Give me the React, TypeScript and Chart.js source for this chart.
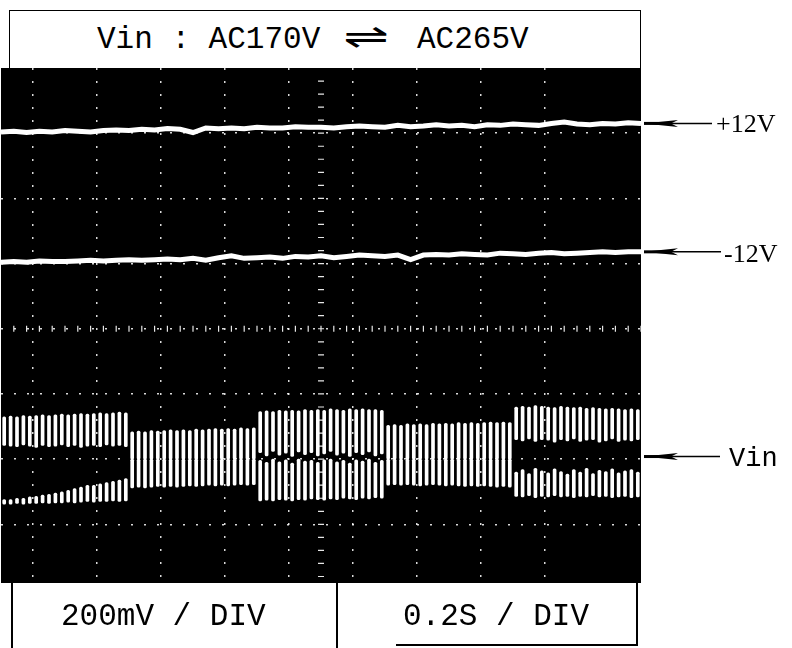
import React, { useEffect, useRef } from "react";
import { Chart, registerables } from "chart.js";

Chart.register(...registerables);

// Screen: 10 horizontal divisions (0.2 s / div), 8 vertical divisions
const X_DIVS = 10;
const Y_MIN = 0.1;
const Y_MAX = 8;
const TRACE_STEP = 0.2; // divisions between trace samples
const STRIPE_STEP = 0.1; // divisions between Vin cycles

const plus12V = [7.02, 7.03, 7.01, 7.03, 7.02, 7.04, 7.03, 7.02, 7.04, 7.05, 7.04, 7.06, 7.05, 7.07, 7.06, 7.01, 7.08, 7.07, 7.08, 7.07, 7.09, 7.08, 7.08, 7.1, 7.09, 7.09, 7.08, 7.1, 7.11, 7.1, 7.09, 7.12, 7.1, 7.11, 7.13, 7.11, 7.12, 7.1, 7.13, 7.12, 7.14, 7.13, 7.12, 7.15, 7.17, 7.14, 7.13, 7.15, 7.14, 7.16, 7.15];
const minus12V = [5.02, 5.03, 5.02, 5.04, 5.03, 5.03, 5.04, 5.05, 5.04, 5.05, 5.06, 5.05, 5.06, 5.07, 5.06, 5.08, 5.05, 5.09, 5.12, 5.08, 5.09, 5.1, 5.08, 5.11, 5.1, 5.12, 5.09, 5.11, 5.13, 5.12, 5.11, 5.13, 5.06, 5.13, 5.14, 5.13, 5.15, 5.14, 5.13, 5.16, 5.15, 5.14, 5.16, 5.17, 5.15, 5.16, 5.17, 5.18, 5.17, 5.18, 5.18];

// Vin: each cycle drawn as an upper and a lower stripe [bottom, top]
const vinUpperTop = [
  2.65, 2.66, 2.65, 2.67, 2.66, 2.67, 2.68, 2.67, 2.68, 2.69, 2.68, 2.69, 2.7, 2.69, 2.7, 2.71, 2.7, 2.71, 2.72, 2.71,
  2.42, 2.43, 2.42, 2.44, 2.43, 2.44, 2.45, 2.44, 2.45, 2.44, 2.46, 2.45, 2.46, 2.47, 2.46, 2.47, 2.46, 2.48, 2.47, 2.48,
  2.73, 2.74, 2.73, 2.75, 2.74, 2.75, 2.74, 2.76, 2.75, 2.76, 2.75, 2.77, 2.76, 2.75, 2.77, 2.76, 2.77, 2.76, 2.76, 2.75,
  2.52, 2.53, 2.52, 2.54, 2.53, 2.54, 2.53, 2.55, 2.54, 2.55, 2.54, 2.56, 2.55, 2.56, 2.55, 2.56, 2.57, 2.56, 2.57, 2.56,
  2.8, 2.81, 2.8, 2.82, 2.81, 2.8, 2.79, 2.81, 2.8, 2.79, 2.8, 2.78, 2.79, 2.78, 2.77, 2.78, 2.77, 2.76, 2.77, 2.76,
];
const vinUpperBot = [
  2.21, 2.2, 2.19, 2.22, 2.2, 2.18, 2.21, 2.19, 2.2, 2.22, 2.19, 2.21, 2.18, 2.2, 2.21, 2.19, 2.22, 2.2, 2.21, 2.19,
  2.0, 2.0, 2.0, 2.0, 2.0, 2.0, 2.0, 2.0, 2.0, 2.0, 2.0, 2.0, 2.0, 2.0, 2.0, 2.0, 2.0, 2.0, 2.0, 2.0,
  2.1, 2.05, 2.12, 2.06, 2.09, 2.04, 2.11, 2.07, 2.1, 2.05, 2.08, 2.12, 2.06, 2.09, 2.04, 2.1, 2.07, 2.11, 2.05, 2.08,
  2.0, 2.0, 2.0, 2.0, 2.0, 2.0, 2.0, 2.0, 2.0, 2.0, 2.0, 2.0, 2.0, 2.0, 2.0, 2.0, 2.0, 2.0, 2.0, 2.0,
  2.3, 2.28, 2.31, 2.27, 2.3, 2.29, 2.26, 2.3, 2.28, 2.31, 2.27, 2.29, 2.3, 2.26, 2.28, 2.31, 2.27, 2.29, 2.28, 2.3,
];
const vinLowerTop = [
  1.38, 1.38, 1.4, 1.4, 1.42, 1.43, 1.45, 1.46, 1.48, 1.5, 1.52, 1.55, 1.57, 1.6, 1.6, 1.62, 1.64, 1.66, 1.68, 1.7,
  2.0, 2.0, 2.0, 2.0, 2.0, 2.0, 2.0, 2.0, 2.0, 2.0, 2.0, 2.0, 2.0, 2.0, 2.0, 2.0, 2.0, 2.0, 2.0, 2.0,
  1.98, 1.95, 2.0, 1.96, 1.99, 1.94, 2.0, 1.97, 1.98, 1.95, 1.99, 2.0, 1.96, 1.98, 1.94, 1.99, 1.97, 2.0, 1.95, 1.98,
  2.0, 2.0, 2.0, 2.0, 2.0, 2.0, 2.0, 2.0, 2.0, 2.0, 2.0, 2.0, 2.0, 2.0, 2.0, 2.0, 2.0, 2.0, 2.0, 2.0,
  1.8, 1.84, 1.78, 1.86, 1.82, 1.79, 1.85, 1.81, 1.77, 1.84, 1.8, 1.86, 1.78, 1.83, 1.81, 1.85, 1.79, 1.82, 1.84, 1.8,
];
const vinLowerBot = [
  1.31, 1.31, 1.32, 1.31, 1.32, 1.32, 1.33, 1.32, 1.33, 1.33, 1.34, 1.33, 1.34, 1.35, 1.34, 1.35, 1.35, 1.36, 1.35, 1.36,
  1.56, 1.57, 1.56, 1.57, 1.58, 1.57, 1.58, 1.57, 1.58, 1.59, 1.58, 1.59, 1.6, 1.59, 1.6, 1.59, 1.6, 1.61, 1.6, 1.61,
  1.36, 1.37, 1.36, 1.38, 1.37, 1.36, 1.38, 1.37, 1.39, 1.38, 1.37, 1.39, 1.38, 1.4, 1.39, 1.38, 1.4, 1.39, 1.41, 1.4,
  1.6, 1.61, 1.6, 1.61, 1.6, 1.59, 1.6, 1.61, 1.6, 1.59, 1.6, 1.59, 1.58, 1.59, 1.58, 1.59, 1.58, 1.57, 1.58, 1.57,
  1.43, 1.42, 1.44, 1.41, 1.43, 1.42, 1.44, 1.42, 1.43, 1.41, 1.43, 1.42, 1.44, 1.42, 1.43, 1.41, 1.42, 1.43, 1.41, 1.42,
];
const VIN_CENTER = 2.04;

const titleLeft = "Vin : AC170V";
const titleArrow = "\u21CC";
const titleRight = "AC265V";
const voltsPerDiv = "200mV / DIV";
const timePerDiv = "0.2S / DIV";
const labelPlus = "+12V";
const labelMinus = "-12V";
const labelVin = "Vin";

const screenPlugin = {
  id: "screen",
  beforeDraw(chart: any) {
    const { ctx, chartArea: a } = chart;
    ctx.save();
    ctx.fillStyle = "#000";
    ctx.fillRect(a.left, a.top, a.right - a.left, a.bottom - a.top);
    ctx.restore();
  },
  beforeDatasetsDraw(chart: any) {
    // minor graduation ticks on the centre axes
    const { ctx, scales } = chart;
    const xs = scales.x;
    const ys = scales.y;
    const cx = xs.getPixelForValue(X_DIVS / 2);
    const cy = ys.getPixelForValue(4);
    ctx.save();
    ctx.strokeStyle = "rgba(255,255,255,0.9)";
    ctx.lineWidth = 1.2;
    ctx.beginPath();
    for (let v = 0.2; v < Y_MAX; v += 0.2) {
      const p = ys.getPixelForValue(v);
      ctx.moveTo(cx - 3, p);
      ctx.lineTo(cx + 3, p);
    }
    for (let v = 0.2; v < X_DIVS; v += 0.2) {
      const p = xs.getPixelForValue(v);
      ctx.moveTo(p, cy - 3);
      ctx.lineTo(p, cy + 3);
    }
    ctx.stroke();
    ctx.restore();
  },
  afterDraw(chart: any) {
    const { ctx, chartArea: a, scales } = chart;
    const ys = scales.y;
    const arrow = (y: number, x1: number) => {
      const x0 = a.right + 3;
      ctx.save();
      ctx.strokeStyle = "#000";
      ctx.fillStyle = "#000";
      ctx.lineWidth = 1.5;
      ctx.beginPath();
      ctx.moveTo(x0, y);
      ctx.lineTo(x1, y);
      ctx.stroke();
      ctx.lineWidth = 3;
      ctx.beginPath();
      ctx.moveTo(x0, y);
      ctx.lineTo(x0 + 26, y);
      ctx.stroke();
      ctx.beginPath();
      ctx.moveTo(x0, y);
      ctx.lineTo(x0 + 34, y - 3.5);
      ctx.lineTo(x0 + 27, y);
      ctx.lineTo(x0 + 34, y + 3.5);
      ctx.closePath();
      ctx.fill();
      ctx.restore();
    };
    arrow(ys.getPixelForValue(plus12V[plus12V.length - 1]), 712);
    arrow(ys.getPixelForValue(minus12V[minus12V.length - 1]), 721);
    arrow(ys.getPixelForValue(VIN_CENTER), 720);
  },
};

const gridColor = (edgeMax: number) => (ctx: any) => {
  const v = ctx.tick ? ctx.tick.value : 0;
  if (Math.abs(v - Math.round(v)) > 1e-6 || v <= 0.5 || v >= edgeMax - 1e-6) return "rgba(0,0,0,0)";
  return "rgba(255,255,255,0.85)";
};

export default function App() {
  const ref = useRef<HTMLCanvasElement | null>(null);
  useEffect(() => {
    if (!ref.current) return;
    const traceData = (arr: number[]) => arr.map((y, i) => ({ x: i * TRACE_STEP, y }));
    const stripes = (bot: number[], top: number[]) =>
      top.map((t, i) => ({ x: (i + 0.5) * STRIPE_STEP, y: [bot[i], t] }));
    const chart = new Chart(ref.current, {
      type: "bar",
      data: {
        datasets: [
          {
            type: "line",
            label: "+12V",
            data: traceData(plus12V),
            borderColor: "#fff",
            borderWidth: 5,
            pointRadius: 0,
            tension: 0,
          } as any,
          {
            type: "line",
            label: "-12V",
            data: traceData(minus12V),
            borderColor: "#fff",
            borderWidth: 5,
            pointRadius: 0,
            tension: 0,
          } as any,
          {
            type: "bar",
            label: "Vin upper",
            data: stripes(vinUpperBot, vinUpperTop),
            backgroundColor: "#fff",
            borderWidth: 0,
            borderRadius: 1.5,
            borderSkipped: false,
            barThickness: 3,
            grouped: false,
          } as any,
          {
            type: "bar",
            label: "Vin lower",
            data: stripes(vinLowerBot, vinLowerTop),
            backgroundColor: "#fff",
            borderWidth: 0,
            borderRadius: 1.5,
            borderSkipped: false,
            barThickness: 3,
            grouped: false,
          } as any,
        ],
      },
      options: {
        responsive: false,
        animation: false,
        devicePixelRatio: 1,
        layout: { padding: { left: 1, right: 151, top: 68, bottom: 65 } },
        plugins: { legend: { display: false }, tooltip: { enabled: false }, title: { display: false } },
        scales: {
          x: {
            type: "linear",
            min: 0,
            max: X_DIVS,
            offset: false,
            ticks: { display: false, stepSize: 1 },
            grid: { color: gridColor(X_DIVS), lineWidth: 1.5, drawTicks: false, tickLength: 0 },
            border: { display: false, dash: [2, 11] },
          },
          y: {
            type: "linear",
            min: Y_MIN,
            max: Y_MAX,
            ticks: { display: false, stepSize: 1 },
            grid: { color: gridColor(Y_MAX), lineWidth: 1.5, drawTicks: false, tickLength: 0 },
            border: { display: false, dash: [2, 11] },
          },
        },
      } as any,
      plugins: [screenPlugin],
    });
    return () => chart.destroy();
  }, []);

  const mono = '"Liberation Mono", "Courier New", monospace';
  const serif = '"Liberation Serif", "Times New Roman", serif';
  const abs = (s: React.CSSProperties): React.CSSProperties => ({ position: "absolute", whiteSpace: "pre", ...s });

  return (
    <div style={{ position: "absolute", left: 0, top: 0, width: 792, height: 648, background: "#fff", overflow: "hidden" }}>
      <canvas ref={ref} width={792} height={648} style={{ position: "absolute", left: 0, top: 0, width: 792, height: 648 }} />
      {/* title box */}
      <div style={abs({ left: 9, top: 10, width: 632, height: 58, borderTop: "1.5px solid #000", borderLeft: "1.5px solid #000", borderRight: "1.5px solid #000", background: "#fff", boxSizing: "border-box" })} />
      <div style={abs({ left: 97, top: 24, fontFamily: mono, fontSize: 31, lineHeight: 1, color: "#000" })}>{titleLeft}</div>
      <div style={abs({ left: 343, top: 19, fontFamily: '"DejaVu Sans", sans-serif', fontSize: 34, lineHeight: 1, color: "#000", transform: "scaleX(1.6)", transformOrigin: "left center" })}>{titleArrow}</div>
      <div style={abs({ left: 417, top: 24, fontFamily: mono, fontSize: 31, lineHeight: 1, color: "#000" })}>{titleRight}</div>
      {/* bottom boxes */}
      <div style={abs({ left: 11, top: 583, width: 1.5, height: 65, background: "#000" })} />
      <div style={abs({ left: 336, top: 583, width: 1.5, height: 65, background: "#000" })} />
      <div style={abs({ left: 636, top: 583, width: 1.5, height: 63, background: "#000" })} />
      <div style={abs({ left: 396, top: 644, width: 242, height: 1.5, background: "#000" })} />
      <div style={abs({ left: 61, top: 601, fontFamily: mono, fontSize: 31, lineHeight: 1, color: "#000" })}>{voltsPerDiv}</div>
      <div style={abs({ left: 403, top: 601, fontFamily: mono, fontSize: 31, lineHeight: 1, color: "#000" })}>{timePerDiv}</div>
      {/* right-hand labels */}
      <div style={abs({ left: 716, top: 111, fontFamily: serif, fontSize: 26, lineHeight: 1, color: "#000" })}>{labelPlus}</div>
      <div style={abs({ left: 724, top: 241, fontFamily: serif, fontSize: 26, lineHeight: 1, color: "#000" })}>{labelMinus}</div>
      <div style={abs({ left: 729, top: 446, fontFamily: mono, fontSize: 27, lineHeight: 1, color: "#000" })}>{labelVin}</div>
    </div>
  );
}
